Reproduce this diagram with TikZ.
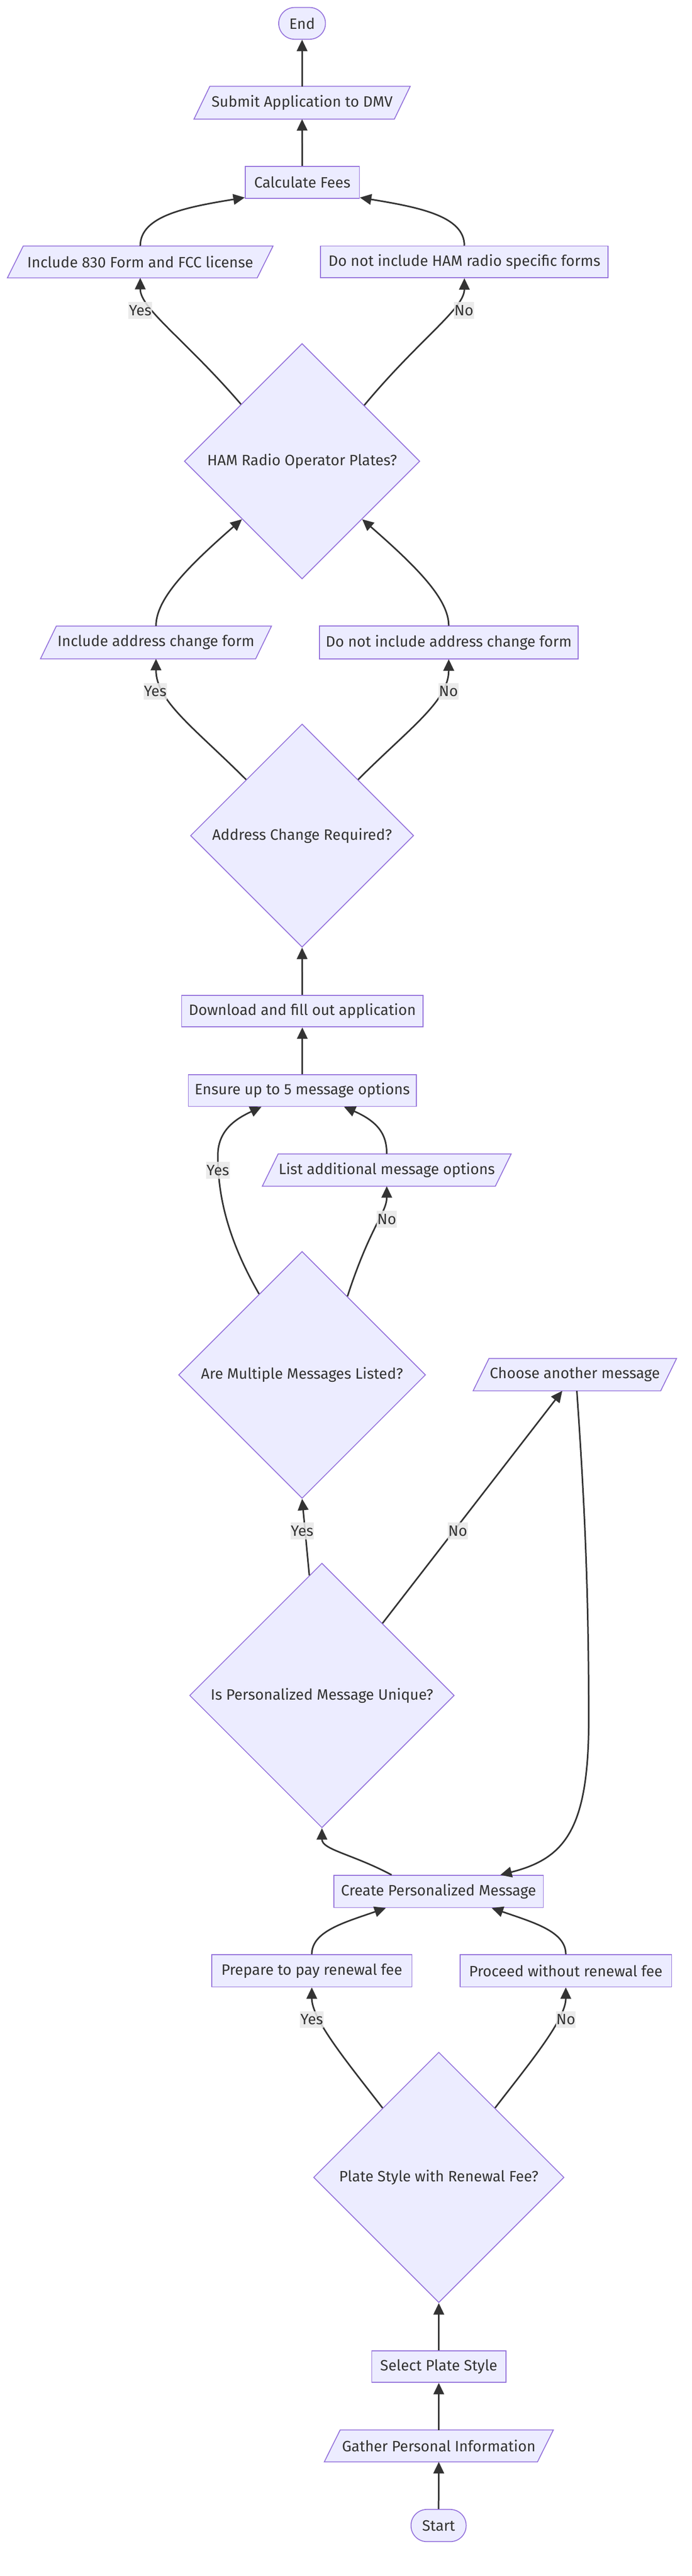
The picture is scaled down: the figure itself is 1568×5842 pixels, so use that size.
\documentclass[tikz,border=0pt]{standalone}
\usepackage{fontspec}
\setmainfont{Fira Sans}
\usetikzlibrary{arrows.meta,shapes.geometric,calc}
\definecolor{nfill}{HTML}{ECECFF}
\definecolor{nline}{HTML}{9370DB}
\definecolor{eline}{HTML}{333333}
\definecolor{lbg}{HTML}{E8E8E8}
\newcommand\nfont{\fontsize{34}{40}\selectfont}
\tikzset{
  base/.style={fill=nfill, draw=nline, line width=2pt, text=eline, font=\nfont, inner sep=0pt},
  box/.style={base, rectangle},
  stadium/.style={base, rectangle, rounded corners=36pt},
  decision/.style={base, diamond, aspect=1},
  paraholder/.style={rectangle, inner sep=0pt},
  paratext/.style={text=eline, font=\nfont, inner sep=0pt},
  parashape/.style={fill=nfill, draw=nline, line width=2pt},
  edge/.style={draw=eline, line width=3.5pt, -{Triangle[length=26pt,width=24pt]}},
  elabel/.style={fill=lbg, fill opacity=0.85, text opacity=1, text=eline, font=\nfont, inner xsep=1pt, inner ysep=0pt, minimum height=38pt},
}
\newcommand\paranode[6]{%
  \node[paraholder, minimum width=#4pt, minimum height=#5pt] (#1) at (#2,#3) {};
  \filldraw[parashape] ($(#1.south west)+(-18,0)$) -- ($(#1.north west)+(18,0)$) -- ($(#1.north east)+(18,0)$) -- ($(#1.south east)+(-18,0)$) -- cycle;
  \node[paratext] at (#1) {#6};
}
\begin{document}
\begin{tikzpicture}[x=1pt,y=-1pt]
\useasboundingbox (0,0) rectangle (1568,5842);
% nodes
\node[stadium, minimum width=106pt, minimum height=72pt] (end) at (685,53) {End};
\paranode{sub}{685}{233}{454}{74}{Submit Application to DMV}
\node[box, minimum width=259pt, minimum height=73pt] (calc) at (685.5,413.5) {Calculate Fees};
\paranode{inc830}{318}{594}{566}{72}{Include 830 Form and FCC license}
\node[box, minimum width=652pt, minimum height=72pt] (noham) at (1053,594) {Do not include HAM radio specific forms};
\node[decision, minimum width=534pt, minimum height=534pt] (ham) at (685,1046) {HAM Radio Operator Plates?};
\paranode{incaddr}{353.7}{1457}{487.5}{74}{Include address change form}
\node[box, minimum width=587pt, minimum height=74pt] (noaddr) at (1017.5,1457) {Do not include address change form};
\node[decision, minimum width=506pt, minimum height=506pt] (addr) at (685,1895) {Address Change Required?};
\node[box, minimum width=547pt, minimum height=72pt] (download) at (685.5,2293) {Download and fill out application};
\node[box, minimum width=517pt, minimum height=72pt] (ensure) at (685.5,2473) {Ensure up to 5 message options};
\paranode{listadd}{877}{2653.5}{528}{73}{List additional message options}
\node[decision, minimum width=560pt, minimum height=560pt] (multi) at (685,3118) {Are Multiple Messages Listed?};
\paranode{choose}{1303.5}{3117.5}{425}{73}{Choose another message}
\node[decision, minimum width=600pt, minimum height=600pt] (unique) at (730,3845) {Is Personalized Message Unique?};
\node[box, minimum width=475pt, minimum height=73pt] (create) at (994.5,4289.5) {Create Personalized Message};
\node[box, minimum width=454pt, minimum height=73pt] (prepare) at (707,4469.5) {Prepare to pay renewal fee};
\node[box, minimum width=480pt, minimum height=73pt] (proceed) at (1283,4469.5) {Proceed without renewal fee};
\node[decision, minimum width=568pt, minimum height=568pt] (plate) at (995,4938) {Plate Style with Renewal Fee?};
\node[box, minimum width=304pt, minimum height=72pt] (select) at (995,5367) {Select Plate Style};
\paranode{gather}{995}{5547}{483}{72}{Gather Personal Information}
\node[stadium, minimum width=125pt, minimum height=73pt] (start) at (994.5,5727.5) {Start};
% edges
\draw[edge] (start.north) -- (gather.south);
\draw[edge] (gather.north) -- (select.south);
\draw[edge] (select.north) -- (plate.south);
\draw[edge] (plate.129) .. controls (790,4680) and (707,4580) .. (prepare.south);
\draw[edge] (plate.51) .. controls (1200,4680) and (1283,4580) .. (proceed.south);
\draw[edge] (prepare.north) .. controls (707,4380) and (780,4360) .. ($(create.south)+(-119.5,0)$);
\draw[edge] (proceed.north) .. controls (1283,4380) and (1210,4360) .. ($(create.south)+(120.5,0)$);
\draw[edge] ($(create.north)+(-106.5,0)$) .. controls (800,4205) and (730,4195) .. (unique.south);
\draw[edge] ($(choose.south)+(4.5,0)$) .. controls (1325,3400) and (1335,3600) .. (1335,3900) .. controls (1335,4150) and (1280,4215) .. ($(create.north)+(140,0)$);
\draw[edge] (unique.96.8) -- (multi.south);
\draw[edge] (unique.50.2) -- ($(choose.south)+(-28.5,0)$);
\draw[edge] (multi.118.4) .. controls (510,2800) and (494,2700) .. (494,2620) .. controls (494,2560) and (540,2535) .. ($(ensure.south)+(-92.5,0)$);
\draw[edge] (multi.60.7) .. controls (840,2780) and (877,2750) .. (listadd.south);
\draw[edge] (listadd.north) .. controls (877,2575) and (860,2545) .. ($(ensure.south)+(94.5,0)$);
\draw[edge] (ensure.north) -- (download.south);
\draw[edge] (download.north) -- (addr.south);
\draw[edge] (addr.135) .. controls (440,1650) and (353.7,1590) .. (incaddr.south);
\draw[edge] (addr.45) .. controls (930,1650) and (1017.5,1590) .. (noaddr.south);
\draw[edge] (incaddr.north) .. controls (353.7,1360) and (420,1290) .. (ham.224);
\draw[edge] (noaddr.north) .. controls (1017.5,1360) and (950,1290) .. (ham.316);
\draw[edge] (ham.137.6) .. controls (420,770) and (318,700) .. (inc830.south);
\draw[edge] (ham.42.4) .. controls (950,770) and (1053,700) .. (noham.south);
\draw[edge] (inc830.north) .. controls (318,490) and (420,470) .. ($(calc.south west)+(0,-3)$);
\draw[edge] (noham.north) .. controls (1053,490) and (950,470) .. ($(calc.south east)+(0,-3)$);
\draw[edge] (calc.north) -- (sub.south);
\draw[edge] (sub.north) -- (end.south);
% edge labels
\node[elabel] (l1) at (318,704) {Yes};
\node[elabel] (l2) at (1052,704) {No};
\node[elabel] (l3) at (352,1568) {Yes};
\node[elabel] (l4) at (1017,1568) {No};
\node[elabel] (l5) at (494,2654) {Yes};
\node[elabel] (l6) at (877,2765) {No};
\node[elabel] (l7) at (685,3472) {Yes};
\node[elabel] (l8) at (1038,3472) {No};
\node[elabel] (l9) at (707,4580) {Yes};
\node[elabel] (l10) at (1283,4580) {No};
\end{tikzpicture}
\end{document}
